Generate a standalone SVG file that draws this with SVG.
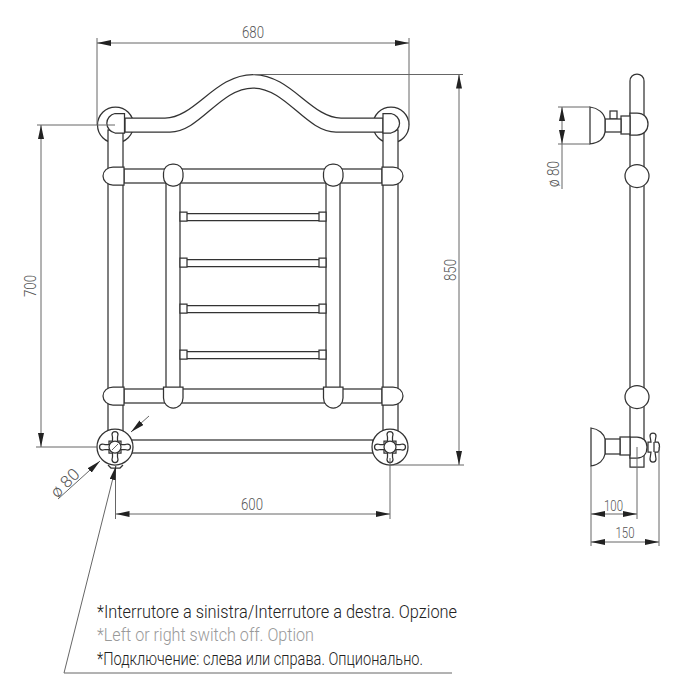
<svg xmlns="http://www.w3.org/2000/svg" width="693" height="700" viewBox="0 0 693 700">
<style>
.o{fill:#fff;stroke:#333;stroke-width:1.25}
.n{fill:none;stroke:#333;stroke-width:1.25}
.d{fill:none;stroke:#666;stroke-width:1}
.t{font-family:"Roboto","Liberation Sans",sans-serif;font-weight:300;font-size:16.500px;fill:#555;text-anchor:middle}
.u{font-size:15px}
.l{font-family:"Roboto","Liberation Sans",sans-serif;font-weight:300;font-size:18.500px;fill:#222}
</style>
<defs>
<marker id="a" markerUnits="userSpaceOnUse" markerWidth="14" markerHeight="6" refX="14" refY="3" orient="auto-start-reverse"><path d="M0,0L14,3L0,6Z" fill="#222"/></marker>
<g id="cross">
<path class="o" d="M-2.500,-6V-10L-3,-12.500A3,3 0 0 1 3,-12.500L2.500,-10V-6H6V-2.500H10L12.500,-3A3,3 0 0 1 12.500,3L10,2.500H6V6H2.500V10L3,12.500A3,3 0 0 1 -3,12.500L-2.500,10V6H-6V2.500H-10L-12.500,3A3,3 0 0 1 -12.500,-3L-10,-2.500H-6V-6Z"/>
<circle class="o" r="6"/>
</g>
</defs>
<g id="front-frame">
<circle class="o" cx="115.500" cy="125" r="18"/>
<circle class="o" cx="391" cy="125" r="18"/>
<rect class="o" x="108" y="130" width="15" height="320"/>
<rect class="o" x="383" y="130" width="15" height="320"/>
<rect class="o" x="166" y="175" width="14" height="220"/>
<rect class="o" x="326" y="175" width="14" height="220"/>
<path class="o" d="M125,118H165C195,118 215,74.500 253,74.500C291,74.500 311,118 341,118H383V132H336C306,132 286,88 253,88C220,88 200,132 170,132H125Z"/>
<path class="o" d="M124.500,133V113.500H115A10.500,10 0 0 0 115,133Z"/>
<path class="o" d="M383,133V113.500H391A11,10 0 0 1 391,133Z"/>
</g>
<g id="front-rails">
<rect class="o" x="124" y="169" width="258" height="14"/>
<rect class="o" x="124" y="389" width="258" height="14"/>
<rect class="o" x="130" y="440" width="243" height="13"/>
<path class="o" d="M124,167V185H113A10,9 0 0 1 113,167Z"/>
<path class="o" d="M382,167V185H393A10,9 0 0 0 393,167Z"/>
<path class="o" d="M124,387V405H113A10,9 0 0 1 113,387Z"/>
<path class="o" d="M382,387V405H393A10,9 0 0 0 393,387Z"/>
<rect class="o" x="163.500" y="164" width="19.500" height="22" rx="9"/>
<rect class="o" x="323.500" y="164" width="19.500" height="22" rx="9"/>
<path class="o" d="M163.500,387H183V398A9.700,10 0 0 1 163.500,398Z"/>
<path class="o" d="M323.500,387H343V398A9.700,10 0 0 1 323.500,398Z"/>
</g>
<g id="towel-bars">
<path class="o" d="M187,213.500H319V220.500H187ZM180,212H187V221H180ZM319,212H326V221H319Z"/>
<path class="o" d="M187,259.500H319V266.500H187ZM180,258H187V267H180ZM319,258H326V267H319Z"/>
<path class="o" d="M187,305.500H319V312.500H187ZM180,304H187V313H180ZM319,304H326V313H319Z"/>
<path class="o" d="M187,351.500H319V358.500H187ZM180,350H187V359H180ZM319,350H326V359H319Z"/>
</g>
<g id="valve-left">
<circle class="o" cx="115" cy="447" r="18"/>
<path class="n" d="M108,465L111,468H120L123,465"/>
<use href="#cross" x="115" y="447"/>
<path class="d" d="M112,450L118,444"/>
</g>
<g id="valve-right">
<circle class="o" cx="390" cy="447" r="18"/>
<use href="#cross" x="390" y="447"/>
</g>
<g id="side-view">
<path class="o" d="M630,467V81A7,7 0 0 1 644,81V467Z"/>
<ellipse class="o" cx="637" cy="176" rx="12" ry="11.500"/>
<ellipse class="o" cx="637" cy="397" rx="12" ry="11.500"/>
<path class="o" d="M630,113H637C644,113 648,118 648,124C648,130 644,135 637,135H630Z"/>
<rect class="o" x="621" y="116" width="9" height="18"/>
<rect class="o" x="610" y="111" width="7" height="8"/>
<rect class="o" x="605" y="119" width="16" height="13"/>
<path class="o" d="M590,107C598,108 604,113 605,119V132C604,139 598,143 590,144Z"/>
<path class="o" d="M630,437H637C643,437 647,441 647,447C647,454 643,458 637,458H630Z"/>
<rect class="o" x="620" y="437" width="10" height="18"/>
<rect class="o" x="605" y="439" width="15" height="15"/>
<path class="o" d="M591,428C599,429 604,434 605,439V454C604,460 599,465 591,466Z"/>
<path class="o" d="M650,436A3,3 0 0 1 656,436L655,442H658C660,444 660,450 658,452H655L656,459A3,3 0 0 1 650,459L651,452H648V442H651Z"/>
<path class="n" d="M654,442V452"/>
</g>
<g id="connectors">
<path class="d" d="M97,38V125M409,38V125M37,125H115M36,447H97M253,74.500H463M390,465H464M115.500,466V519M390,458V519M558,107H590M558,144H590M562,144V189M637,447V519M591,466V546M659,447V546"/>
<path class="d" marker-start="url(#a)" marker-end="url(#a)" d="M97,43H409"/>
<path class="d" marker-start="url(#a)" marker-end="url(#a)" d="M41,125V447"/>
<path class="d" marker-start="url(#a)" marker-end="url(#a)" d="M459,74.500V465"/>
<path class="d" marker-start="url(#a)" marker-end="url(#a)" d="M115.500,514H390"/>
<path class="d" marker-end="url(#a)" d="M58,499L100,461"/>
<path class="d" marker-end="url(#a)" d="M149,416L131,432"/>
<path class="d" marker-start="url(#a)" marker-end="url(#a)" d="M562,107V144"/>
<path class="d" marker-start="url(#a)" marker-end="url(#a)" d="M591,514H637"/>
<path class="d" marker-start="url(#a)" marker-end="url(#a)" d="M591,542H659"/>
<path class="d" marker-end="url(#a)" d="M64,673L116,466"/>
<path class="d" d="M64,673H452"/>
</g>
<g id="labels">
<text class="t" x="253" y="38" textLength="22" lengthAdjust="spacingAndGlyphs">680</text>
<text class="t" transform="translate(36,286) rotate(-90)" textLength="22" lengthAdjust="spacingAndGlyphs">700</text>
<text class="t" transform="translate(456,270) rotate(-90)" textLength="22" lengthAdjust="spacingAndGlyphs">850</text>
<text class="t" x="252" y="510" textLength="22" lengthAdjust="spacingAndGlyphs">600</text>
<text class="t" transform="translate(69,487) rotate(-45)" textLength="33" lengthAdjust="spacingAndGlyphs">ø 80</text>
<text class="t" transform="translate(559,174) rotate(-90)" textLength="26" lengthAdjust="spacingAndGlyphs">ø 80</text>
<text class="t u" x="613.500" y="510.500" textLength="19" lengthAdjust="spacingAndGlyphs">100</text>
<text class="t u" x="625" y="538" textLength="19" lengthAdjust="spacingAndGlyphs">150</text>
<text class="l" x="97" y="618" textLength="360" lengthAdjust="spacingAndGlyphs">*Interrutore a sinistra/Interrutore a destra. Opzione</text>
<text class="l" x="97" y="641" textLength="217" lengthAdjust="spacingAndGlyphs" style="fill:#999">*Left or right switch off. Option</text>
<text class="l" x="97" y="665" textLength="326" lengthAdjust="spacingAndGlyphs">*Подключение: слева или справа. Опционально.</text>
</g>
</svg>
